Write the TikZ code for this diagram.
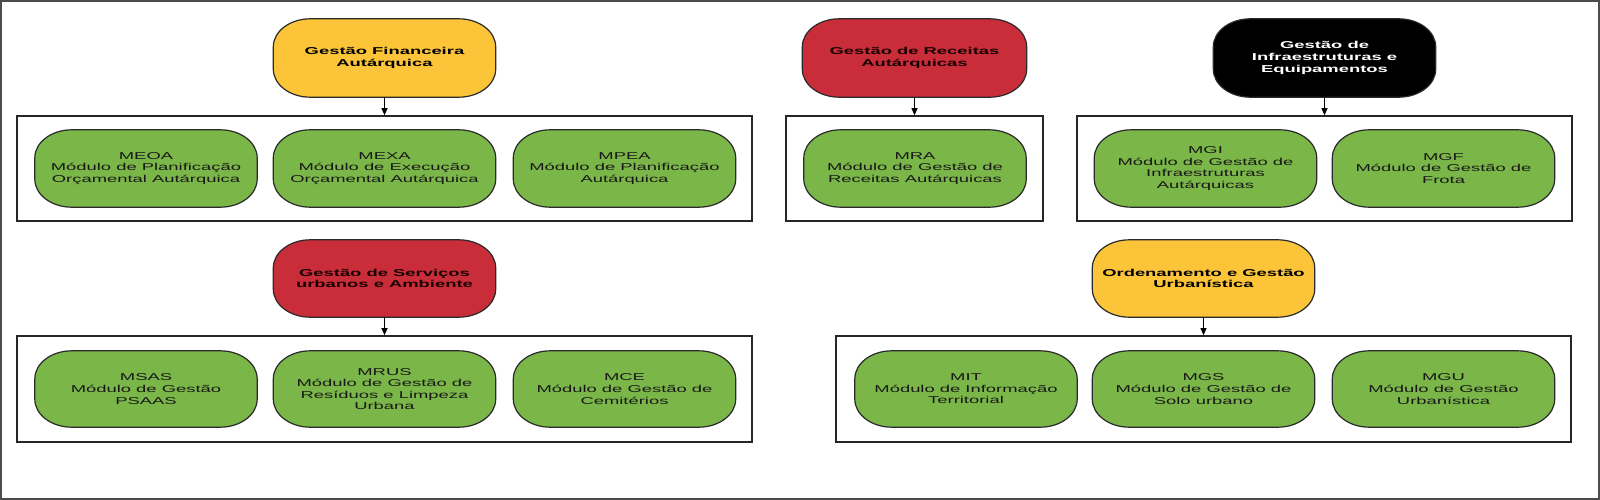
\documentclass[tikz,border=0pt]{standalone}
\usepackage{fontspec}
\usetikzlibrary{arrows.meta,backgrounds}
\newfontfamily\modfont[FakeStretch=1.84]{Liberation Sans}
\newfontfamily\headfont[FakeStretch=1.84]{Liberation Sans Bold}
\definecolor{modgreen}{HTML}{7AB648}
\definecolor{hyellow}{HTML}{FCC438}
\definecolor{hred}{HTML}{C92D39}
\definecolor{edgegray}{HTML}{2A2A2A}
\newcommand\pillpath[3]{([xshift=#2]#1.north west) -- ([xshift=-#2]#1.north east)
  arc[start angle=90,end angle=0,x radius=#2,y radius=#3] -- ([yshift=#3]#1.south east)
  arc[start angle=0,end angle=-90,x radius=#2,y radius=#3] -- ([xshift=#2]#1.south west)
  arc[start angle=270,end angle=180,x radius=#2,y radius=#3] -- ([yshift=-#3]#1.north west)
  arc[start angle=180,end angle=90,x radius=#2,y radius=#3] -- cycle}
\tikzset{
  mod/.style={minimum width=222pt, minimum height=77pt, align=center, inner sep=0pt,
    text=black!90, font=\fontsize{10}{11.6}\selectfont\modfont},
  head/.style={minimum width=222pt, minimum height=78pt, align=center, inner sep=0pt,
    font=\fontsize{10}{11.6}\selectfont\headfont},
  pillline/.style={draw=edgegray, line width=1.2pt},
  grp/.style={draw=black!85, line width=1.6pt, fill=none, inner sep=0pt},
  arr/.style={draw=black, line width=1pt, -{Triangle[length=7pt,width=6pt]}},
  frame/.style={draw=black!70, line width=1.2pt, inner sep=0pt}
}
\begin{document}
\begin{tikzpicture}[x=1pt,y=-1pt]
\useasboundingbox (0,0) rectangle (1600,500);
\node[frame, minimum width=1598pt, minimum height=498pt] (frame) at (800,250) {};

% group boxes
\node[grp, minimum width=735pt, minimum height=105pt] (g1) at (384.5,168.5) {};
\node[grp, minimum width=257pt, minimum height=105pt] (g2) at (914.5,168.5) {};
\node[grp, minimum width=495pt, minimum height=105pt] (g3) at (1324.5,168.5) {};
\node[grp, minimum width=735pt, minimum height=106pt] (g4) at (384.5,389) {};
\node[grp, minimum width=735pt, minimum height=106pt] (g5) at (1203.5,389) {};

% headers
\node[head, text=black] (gf) at (384.5,58) {Gestão Financeira\\Autárquica};
\node[head, text=black!90!red, minimum width=224pt] (gr) at (914.5,58) {Gestão de Receitas\\Autárquicas};
\node[head, text=white] (gi) at (1324.5,58) {Gestão de\\Infraestruturas e\\Equipamentos};
\node[head, text=black!90!red, minimum height=77pt] (gs) at (384.5,278.5) {Gestão de Serviços\\urbanos e Ambiente};
\node[head, text=black, minimum height=77pt] (go) at (1203.5,278.5) {Ordenamento e Gestão\\Urbanística};

% modules row 1
\node[mod] (meoa) at (146,168.5) {MEOA\\Módulo de Planificação\\Orçamental Autárquica};
\node[mod] (mexa) at (384.5,168.5) {MEXA\\Módulo de Execução\\Orçamental Autárquica};
\node[mod] (mpea) at (624.5,168.5) {MPEA\\Módulo de Planificação\\Autárquica};
\node[mod] (mra) at (915,168.5) {MRA\\Módulo de Gestão de\\Receitas Autárquicas};
\node[mod] (mgi) at (1205.5,168.5) {MGI\\Módulo de Gestão de\\Infraestruturas\\Autárquicas};
\node[mod] (mgf) at (1443.5,168.5) {MGF\\Módulo de Gestão de\\Frota};

% modules row 2
\node[mod, minimum height=76pt] (msas) at (146,389) {MSAS\\Módulo de Gestão\\PSAAS};
\node[mod, minimum height=76pt] (mrus) at (384.5,389) {MRUS\\Módulo de Gestão de\\Resíduos e Limpeza\\Urbana};
\node[mod, minimum height=76pt] (mce) at (624.5,389) {MCE\\Módulo de Gestão de\\Cemitérios};
\node[mod, minimum height=76pt] (mit) at (966,389) {MIT\\Módulo de Informação\\Territorial};
\node[mod, minimum height=76pt] (mgs) at (1203.5,389) {MGS\\Módulo de Gestão de\\Solo urbano};
\node[mod, minimum height=76pt] (mgu) at (1443.5,389) {MGU\\Módulo de Gestão\\Urbanística};

% pill shapes behind the texts
\begin{scope}[on background layer]
  \foreach \n in {meoa,mexa,mpea,mra,mgi,mgf,msas,mrus,mce,mit,mgs,mgu}
    \filldraw[pillline, fill=modgreen] \pillpath{\n}{37pt}{28pt};
  \foreach \n/\c in {gf/hyellow,gr/hred,gi/black,gs/hred,go/hyellow}
    \filldraw[pillline, fill=\c] \pillpath{\n}{37pt}{28pt};
\end{scope}

% arrows
\draw[arr] (gf.south) -- (g1.north);
\draw[arr] (gr.south) -- (g2.north);
\draw[arr] (gi.south) -- (g3.north);
\draw[arr] (gs.south) -- (g4.north);
\draw[arr] (go.south) -- (g5.north);
\end{tikzpicture}
\end{document}
